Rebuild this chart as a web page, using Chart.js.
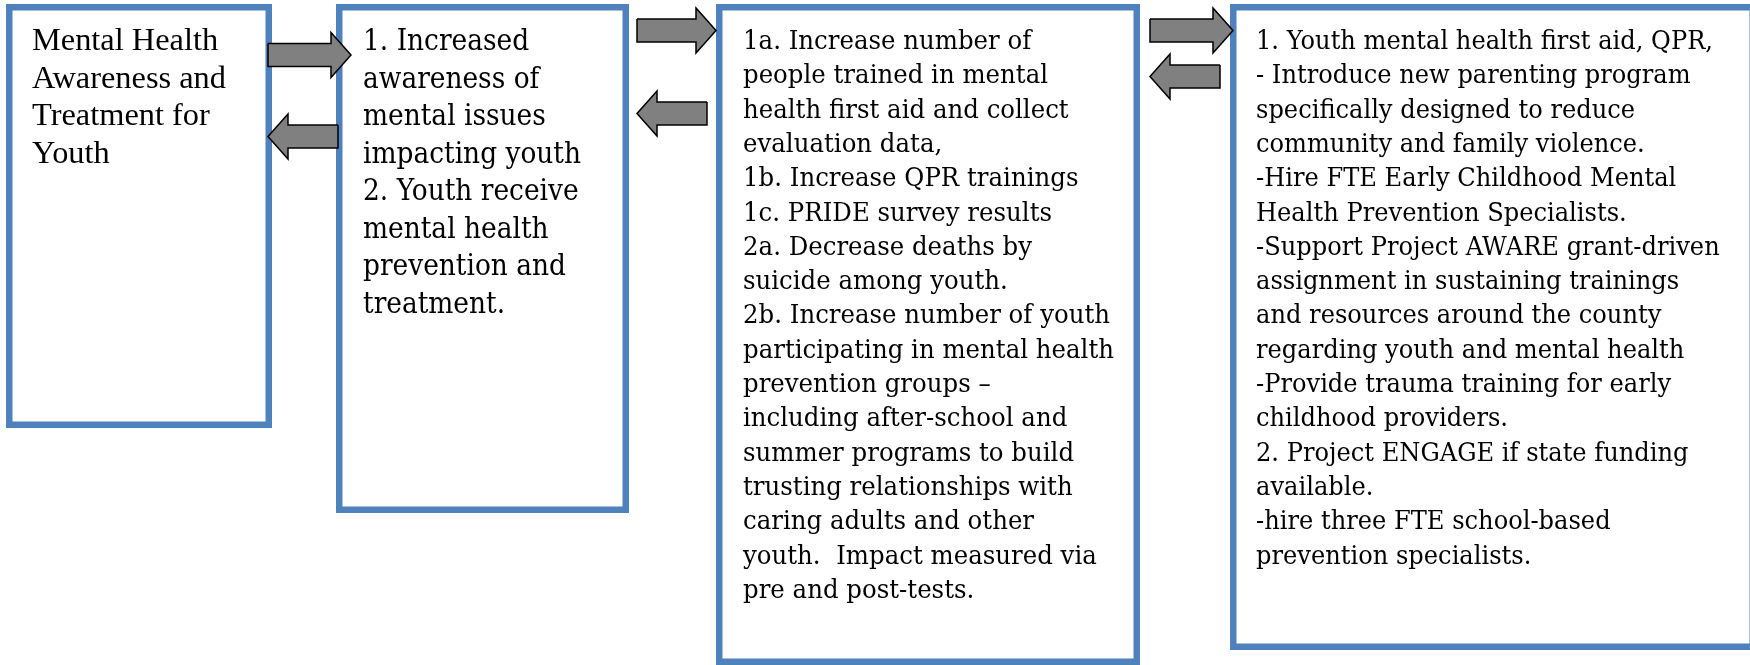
<!DOCTYPE html>
<html>
<head>
<meta charset="utf-8">
<script src="https://cdn.jsdelivr.net/npm/chart.js@4.4.1/dist/chart.umd.min.js"></script>
<style>
    html, body { margin: 0; padding: 0; background: #ffffff; }
    #flow { display: block; }
</style>
</head>
<body>
<canvas id="flow" width="1750" height="665"></canvas>
<script>
// boxes, left to right (outer edges, in the chart's own 1750 x 665 units)
const boxLeft   = [6, 336, 716, 1230];
const boxRight  = [272, 629, 1140, 1756];
const boxTop    = [4, 4, 4, 4];
const boxBottom = [428, 513, 665, 650];

// block arrows between the boxes
const arrowTail = [268, 338, 637, 707, 1150, 1220];
const arrowTip  = [351, 268, 716, 637, 1233, 1150];
const arrowMidY = [55, 136.5, 30.5, 113.5, 30.5, 76.5];

const goalLines = [
    'Mental Health',
    'Awareness and',
    'Treatment for',
    'Youth',
];
const outcomeLines = [
    '1. Increased',
    'awareness of',
    'mental issues',
    'impacting youth',
    '2. Youth receive',
    'mental health',
    'prevention and',
    'treatment.',
];
const indicatorLines = [
    '1a. Increase number of',
    'people trained in mental',
    'health first aid and collect',
    'evaluation data,',
    '1b. Increase QPR trainings',
    '1c. PRIDE survey results',
    '2a. Decrease deaths by',
    'suicide among youth.',
    '2b. Increase number of youth',
    'participating in mental health',
    'prevention groups \u2013',
    'including after-school and',
    'summer programs to build',
    'trusting relationships with',
    'caring adults and other',
    'youth.  Impact measured via',
    'pre and post-tests.',
];
const strategyLines = [
    '1. Youth mental health first aid, QPR,',
    '- Introduce new parenting program',
    'specifically designed to reduce',
    'community and family violence.',
    '-Hire FTE Early Childhood Mental',
    'Health Prevention Specialists.',
    '-Support Project AWARE grant-driven',
    'assignment in sustaining trainings',
    'and resources around the county',
    'regarding youth and mental health',
    '-Provide trauma training for early',
    'childhood providers.',
    '2. Project ENGAGE if state funding',
    'available.',
    '-hire three FTE school-based',
    'prevention specialists.',
];

const BOX_BLUE = '#4f81bd';
const BOX_LINE = 6.5;
const HEAD_LEN = 20;
const HEAD_HALF = 22.5;
const SHAFT_HALF = 11.5;

// text layout: x start, first baseline, line step, font, and a reference line width
const TEXT_BLOCKS = [
    { lines: goalLines,      x: 32,   base: 50, step: 37.5, size: 31.5, family: '"Liberation Serif", serif', ref: 'Awareness and', refWidth: 194 },
    { lines: outcomeLines,   x: 363,  base: 50, step: 37.5, size: 29,   family: '"DejaVu Serif", serif',     ref: 'impacting youth', refWidth: 218 },
    { lines: indicatorLines, x: 743,  base: 49, step: 34.3, size: 26.6, family: '"DejaVu Serif", serif',     ref: 'participating in mental health', refWidth: 371 },
    { lines: strategyLines,  x: 1256, base: 49, step: 34.3, size: 26.6, family: '"DejaVu Serif", serif',     ref: '1. Youth mental health first aid, QPR,', refWidth: 457 },
];

function boxPath(i) {
    const h = BOX_LINE / 2;
    const x0 = boxLeft[i] + h, x1 = boxRight[i] - h;
    const y0 = boxTop[i] + h, y1 = boxBottom[i] - h;
    return [
        { x: x0, y: y0 }, { x: x1, y: y0 }, { x: x1, y: y1 },
        { x: x0, y: y1 }, { x: x0, y: y0 }, { x: x1, y: y0 },
    ];
}

function arrowPath(i) {
    const tail = arrowTail[i], tip = arrowTip[i], y = arrowMidY[i];
    const dir = Math.sign(tip - tail);
    const neck = tip - dir * HEAD_LEN;
    return [
        { x: tail, y: y - SHAFT_HALF },
        { x: neck, y: y - SHAFT_HALF },
        { x: neck, y: y - HEAD_HALF },
        { x: tip,  y: y },
        { x: neck, y: y + HEAD_HALF },
        { x: neck, y: y + SHAFT_HALF },
        { x: tail, y: y + SHAFT_HALF },
        { x: tail, y: y - SHAFT_HALF },
    ];
}

const boxText = {
    id: 'boxText',
    afterDatasetsDraw(chart) {
        const { ctx, scales: { x, y } } = chart;
        TEXT_BLOCKS.forEach(b => {
            ctx.save();
            ctx.font = `${b.size}px ${b.family}`;
            ctx.fillStyle = '#000000';
            ctx.textBaseline = 'alphabetic';
            const sx = b.refWidth / ctx.measureText(b.ref).width;
            b.lines.forEach((line, i) => {
                ctx.save();
                ctx.translate(x.getPixelForValue(b.x), y.getPixelForValue(b.base + i * b.step));
                ctx.scale(sx, 1);
                ctx.fillText(line, 0, 0);
                ctx.restore();
            });
            ctx.restore();
        });
    },
};

function init() {
    const boxes = boxLeft.map((_, i) => ({
        type: 'line',
        data: boxPath(i),
        borderColor: BOX_BLUE,
        borderWidth: BOX_LINE,
        borderJoinStyle: 'miter',
        borderCapStyle: 'butt',
        pointRadius: 0,
        tension: 0,
        fill: false,
        order: 2,
    }));

    const arrows = arrowTail.map((_, i) => ({
        type: 'line',
        data: arrowPath(i),
        borderColor: '#000000',
        borderWidth: 1.5,
        borderJoinStyle: 'miter',
        backgroundColor: '#808080',
        pointRadius: 0,
        tension: 0,
        fill: 'shape',
        order: 1,
    }));

    new Chart(document.getElementById('flow'), {
        type: 'scatter',
        data: { datasets: [...boxes, ...arrows] },
        options: {
            responsive: false,
            animation: false,
            devicePixelRatio: 1,
            events: [],
            layout: { padding: 0 },
            plugins: {
                legend: { display: false },
                tooltip: { enabled: false },
            },
            scales: {
                x: { type: 'linear', min: 0, max: 1750, display: false },
                y: { type: 'linear', min: 0, max: 665, reverse: true, display: false },
            },
        },
        plugins: [boxText],
    });
}

document.addEventListener('DOMContentLoaded', init);
</script>
</body>
</html>
